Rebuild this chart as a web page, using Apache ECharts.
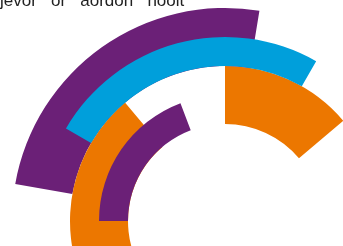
<!DOCTYPE html>
<html>
<head>
<meta charset="utf-8">
<script src="https://cdn.jsdelivr.net/npm/echarts@6/dist/echarts.min.js"></script>
<style>
  html, body { margin: 0; padding: 0; background: #fff; }
  #chart { width: 343px; height: 246px; }
</style>
</head>
<body>
<div id="chart"></div>
<script>
// ringen (binnen -> buiten)
const rings = ['inner', 'outer'];

// brede bogen (hele ring), hoeken in graden
const wideFrom = [40.3, 80.7];
const wideTo = [90, 170];
const wideFrom2 = [130.2, '-'];
const wideTo2 = [205, '-'];

// smalle bogen (binnenste helft van de ring)
const narrowFrom = [110.7, 60.3];
const narrowTo = [180, 149.8];

const PURPLE = '#6b2077';
const BLUE = '#009fdb';
const ORANGE = '#ec7700';
const wideColors = [ORANGE, PURPLE];
const narrowColors = [PURPLE, BLUE];

const titleText = 'jevor   or   aordon   noolt';

function sub(a, b) {
    return a.map((v, i) => (v === '-' || b[i] === '-') ? '-' : +(v - b[i]).toFixed(2));
}

function colored(values, colors) {
    return values.map((v, i) => ({ value: v, itemStyle: { color: colors[i] } }));
}

const hidden = { color: 'rgba(0,0,0,0)' };

function angleAxis(idx) {
    return {
        polarIndex: idx, type: 'value', min: 0, max: 360,
        startAngle: 0, clockwise: false, show: false
    };
}

function radiusAxis(idx) {
    return { polarIndex: idx, type: 'category', data: rings, show: false };
}

let myChart = echarts.init(document.getElementById('chart'));
myChart.setOption({
    animation: false,
    title: {
        text: titleText,
        left: 0,
        top: -7,
        padding: 0,
        textStyle: {
            fontFamily: 'Liberation Sans',
            fontSize: 17,
            fontWeight: 'normal',
            color: '#222'
        }
    },
    polar: [
        { center: [225, 221], radius: [97, 213] },
        { center: [225, 221], radius: [82.5, 198.5] }
    ],
    angleAxis: [angleAxis(0), angleAxis(1)],
    radiusAxis: [radiusAxis(0), radiusAxis(1)],
    series: [
        // brede ring: onzichtbare aanloop + boog
        { type: 'bar', coordinateSystem: 'polar', polarIndex: 0, stack: 'wide', barWidth: '100%',
          itemStyle: hidden, data: wideFrom, z: 1 },
        { type: 'bar', coordinateSystem: 'polar', polarIndex: 0, stack: 'wide', barWidth: '100%',
          data: colored(sub(wideTo, wideFrom), wideColors), z: 2 },
        { type: 'bar', coordinateSystem: 'polar', polarIndex: 0, stack: 'wide', barWidth: '100%',
          itemStyle: hidden, data: sub(wideFrom2, wideTo), z: 1 },
        { type: 'bar', coordinateSystem: 'polar', polarIndex: 0, stack: 'wide', barWidth: '100%',
          data: colored(sub(wideTo2, wideFrom2), wideColors), z: 2 },
        // smalle ring
        { type: 'bar', coordinateSystem: 'polar', polarIndex: 1, stack: 'narrow', barWidth: 29,
          itemStyle: hidden, data: narrowFrom, z: 1 },
        { type: 'bar', coordinateSystem: 'polar', polarIndex: 1, stack: 'narrow', barWidth: 29,
          data: colored(sub(narrowTo, narrowFrom), narrowColors), z: 3 }
    ]
});
</script>
</body>
</html>
